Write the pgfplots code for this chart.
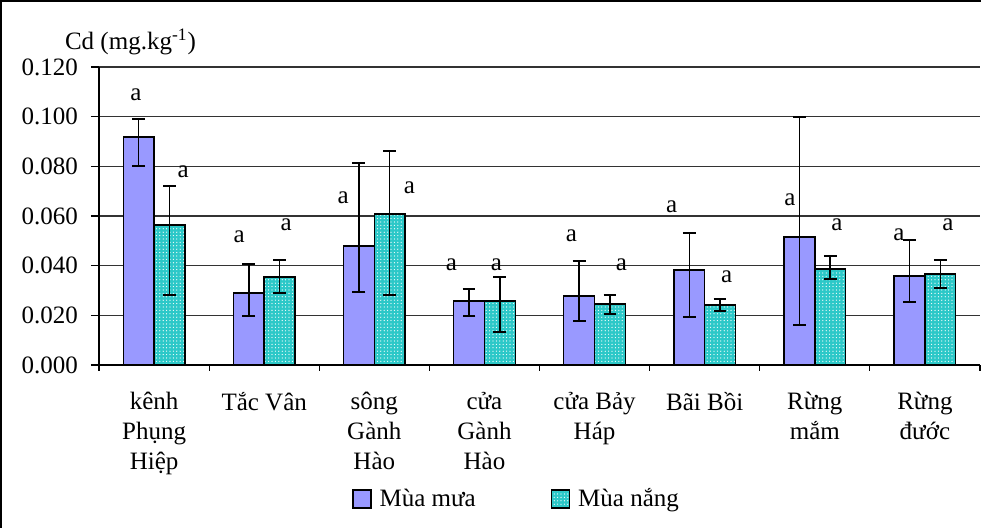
\documentclass[border=0pt]{standalone}
\usepackage{fontspec}
\setmainfont{Liberation Serif}
\usepackage{pgfplots}
\pgfplotsset{compat=1.18}
\usetikzlibrary{patterns.meta}
\definecolor{mua}{HTML}{9999FF}
\definecolor{nang}{HTML}{2CC8C8}
\pgfplotsset{myerr/.style={error bars/.cd, y dir=both, y explicit,
  error bar style={line width=0.75pt, black},
  error mark options={rotate=90, mark size=3.2pt, line width=0.75pt, black}}}
\begin{document}
\begin{tikzpicture}[font=\fontsize{12.5}{15}\selectfont]
\path[use as bounding box] (-49.5pt,-81.5pt) rectangle (441pt,182.5pt);
\draw[line width=1pt] (-48.75pt,-82pt) -- (-48.75pt,181.75pt) -- (442pt,181.75pt);
\begin{axis}[
  scale only axis, width=440.5pt, height=149pt,
  xmin=-0.5, xmax=7.5, ymin=0, ymax=0.12,
  axis x line*=bottom, axis y line*=left,
  axis line style={line width=0.6pt, black},
  ytick={0,0.02,0.04,0.06,0.08,0.1,0.12},
  yticklabels={0.000,0.020,0.040,0.060,0.080,0.100,0.120},
  yticklabel style={xshift=-3pt},
  xtick={0,1,2,3,4,5,6,7},
  xticklabels={kênh\\Phụng\\Hiệp, Tắc Vân, sông\\Gành\\Hào, cửa\\Gành\\Hào, cửa Bảy\\Háp, Bãi Bồi, Rừng\\mắm, Rừng\\đước},
  xticklabel style={align=center, yshift=-6pt},
  minor xtick={-0.5,0.5,1.5,2.5,3.5,4.5,5.5,6.5,7.5},
  tick align=outside, tick pos=left,
  major tick length=4pt, minor tick length=3pt,
  major x tick style={draw=none},
  tick style={line width=0.6pt, black},
  ymajorgrids, grid style={line width=0.6pt, black!80},
  ybar=0pt, bar width=0.28,
  clip=false,
  legend columns=2,
  legend style={at={(axis description cs:0.287,-0.4497)}, anchor=west, draw=none, fill=none, inner sep=0pt,
    nodes={inner sep=0pt}, /tikz/every even column/.append style={column sep=37.5pt},
    /tikz/every odd column/.append style={column sep=4pt}},
  legend image code/.code={\draw[#1] (0pt,-4.5pt) rectangle (9pt,4.5pt);},
]
\addplot[fill=mua, draw=black, line width=0.7pt, myerr] coordinates {
  (0,0.0918) += (0,0.0073) -= (0,0.0117)
  (1,0.0290) += (0,0.0117) -= (0,0.0093)
  (2,0.0479) += (0,0.0334) -= (0,0.0185)
  (3,0.0258) += (0,0.0048) -= (0,0.0061)
  (4,0.0278) += (0,0.0141) -= (0,0.0101)
  (5,0.0383) += (0,0.0149) -= (0,0.0190)
  (6,0.0515) += (0,0.0484) -= (0,0.0354)
  (7,0.0358) += (0,0.0145) -= (0,0.0104)
};
\addlegendentry{Mùa mưa}
\addplot[fill=nang, draw=black, line width=0.7pt, postaction={pattern={Dots[distance=1.7pt, radius=0.32pt]}, pattern color=white}, myerr] coordinates {
  (0,0.0564) += (0,0.0157) -= (0,0.0282)
  (1,0.0354) += (0,0.0069) -= (0,0.0064)
  (2,0.0608) += (0,0.0254) -= (0,0.0326)
  (3,0.0258) += (0,0.0096) -= (0,0.0125)
  (4,0.0246) += (0,0.0036) -= (0,0.0041)
  (5,0.0242) += (0,0.0024) -= (0,0.0025)
  (6,0.0387) += (0,0.0052) -= (0,0.0041)
  (7,0.0366) += (0,0.0057) -= (0,0.0056)
};
\addlegendentry{Mùa nắng}
\node[anchor=west] at (rel axis cs:0,1) [xshift=-20.5pt, yshift=12.5pt] {Cd (mg.kg\textsuperscript{-1})};
\node at (axis cs:-0.164,0.1087) {a};
\node at (axis cs:0.264,0.0777) {a};
\node at (axis cs:0.773,0.0515) {a};
\node at (axis cs:1.2,0.0563) {a};
\node at (axis cs:1.718,0.0672) {a};
\node at (axis cs:2.318,0.0712) {a};
\node at (axis cs:2.7,0.0402) {a};
\node at (axis cs:3.109,0.0402) {a};
\node at (axis cs:3.791,0.0519) {a};
\node at (axis cs:4.245,0.0402) {a};
\node at (axis cs:4.7,0.0636) {a};
\node at (axis cs:5.2,0.0354) {a};
\node at (axis cs:5.773,0.0664) {a};
\node at (axis cs:6.2,0.0563) {a};
\node at (axis cs:6.764,0.0523) {a};
\node at (axis cs:7.209,0.0563) {a};
\end{axis}
\end{tikzpicture}
\end{document}
